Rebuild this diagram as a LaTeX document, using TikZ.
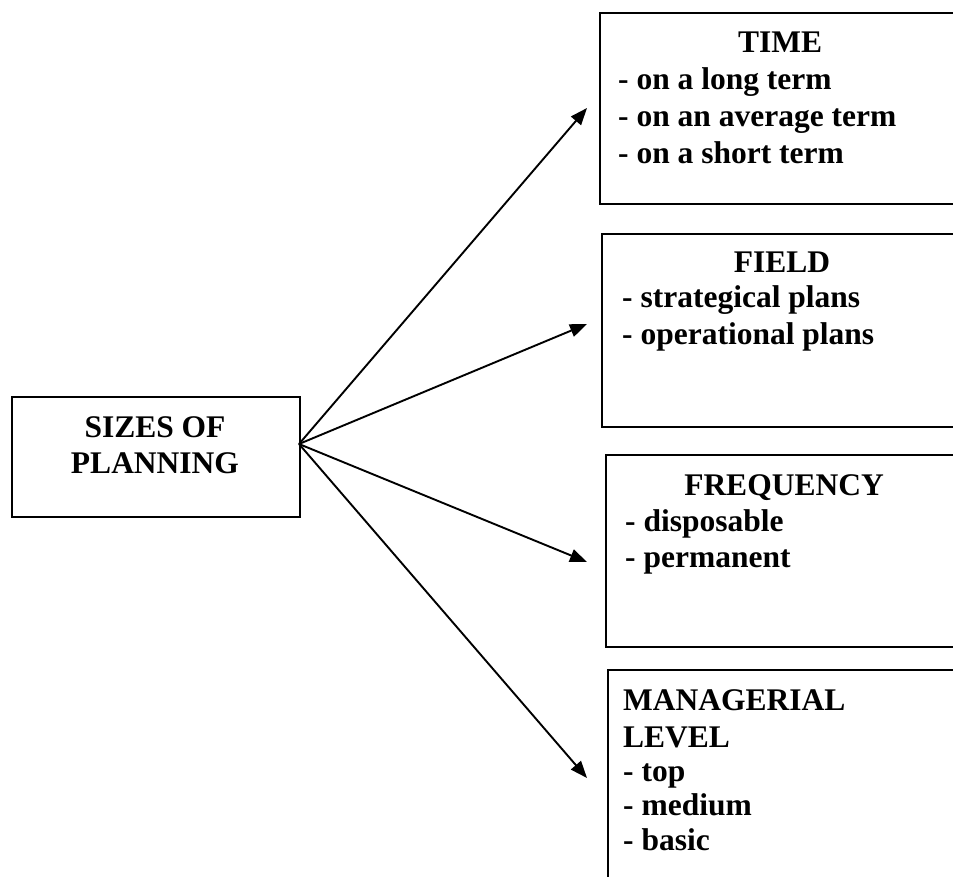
\documentclass[tikz,border=0pt]{standalone}
\usepackage{fontspec}
\setmainfont{Liberation Serif}
\usetikzlibrary{arrows.meta}
\begin{document}
\begin{tikzpicture}[x=1pt,y=-1pt,
  frame/.style={draw, line width=2pt, anchor=north west, inner sep=0pt},
  txt/.style={font=\fontsize{31.5}{36}\selectfont\bfseries, inner sep=0pt},
  title/.style={txt, anchor=base},
  item/.style={txt, anchor=base west},
  link/.style={line width=1.9pt, -{Triangle[length=17pt,width=13pt]}}]
\useasboundingbox (0,0) rectangle (953,877);
\fill[white] (0,0) rectangle (953,877);
\clip (0,0) rectangle (953,877);

% central box
\node[frame, minimum width=288pt, minimum height=120pt] (root) at (11,396) {};
\node[title] (rootA) at (155,437) {SIZES OF};
\node[title] (rootB) at (155,473) {PLANNING};

% right-hand boxes (running off the right edge)
\node[frame, minimum width=400pt, minimum height=191pt] (time) at (599,12) {};
\node[frame, minimum width=400pt, minimum height=193pt] (field) at (601,233) {};
\node[frame, minimum width=400pt, minimum height=192pt] (freq) at (605,454) {};
\node[frame, minimum width=400pt, minimum height=300pt] (level) at (607,669) {};

% TIME
\node[title] (timeT) at (780,53) {TIME};
\node[item] (time1) at (618,90) {- on a long term};
\node[item] (time2) at (618,127) {- on an average term};
\node[item] (time3) at (618,164) {- on a short term};

% FIELD
\node[title] (fieldT) at (782,273) {FIELD};
\node[item] (field1) at (622,308) {- strategical plans};
\node[item] (field2) at (622,344) {- operational plans};

% FREQUENCY
\node[title] (freqT) at (784,495) {FREQUENCY};
\node[item] (freq1) at (625,531) {- disposable};
\node[item] (freq2) at (625,567) {- permanent};

% MANAGERIAL LEVEL
\node[item] (levelT1) at (623,710) {MANAGERIAL};
\node[item] (levelT2) at (623,747) {LEVEL};
\node[item] (level1) at (623,781) {- top};
\node[item] (level2) at (623,815) {- medium};
\node[item] (level3) at (623,850) {- basic};

% connectors
\coordinate (hub) at (299,444);
\coordinate (tipTime) at (587,108);
\coordinate (tipField) at (587,324);
\coordinate (tipFreq) at (587,562);
\coordinate (tipLevel) at (587,778);
\draw[link] (hub) -- (tipTime);
\draw[link] (hub) -- (tipField);
\draw[link] (hub) -- (tipFreq);
\draw[link] (hub) -- (tipLevel);
\end{tikzpicture}
\end{document}
